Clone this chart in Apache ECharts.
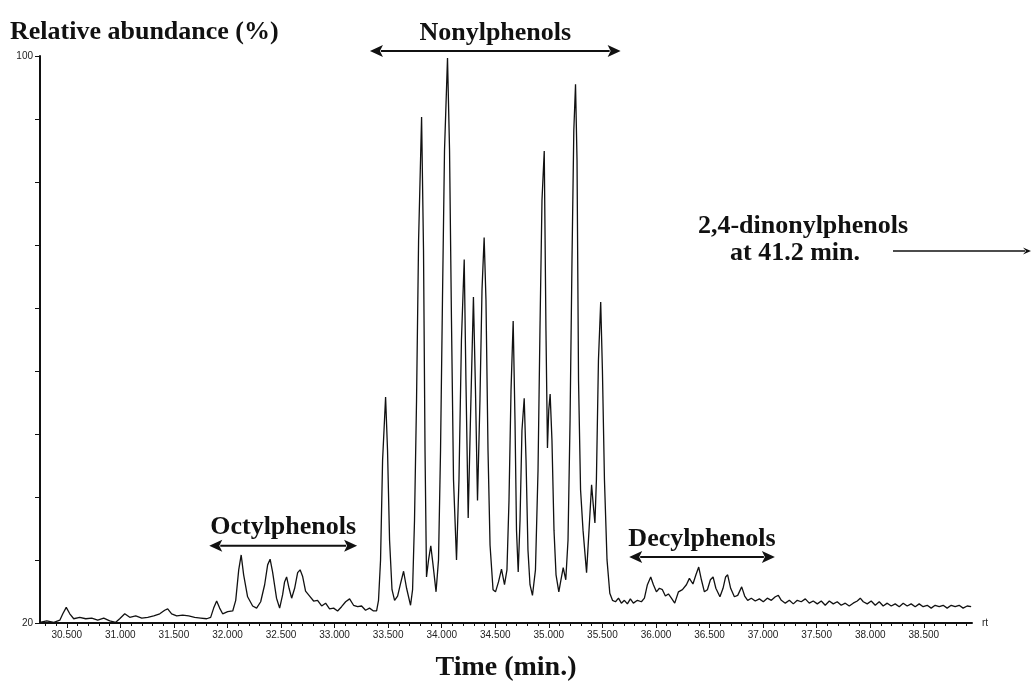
<!DOCTYPE html>
<html>
<head>
<meta charset="utf-8">
<script src="https://cdn.jsdelivr.net/npm/echarts@6/dist/echarts.min.js"></script>
<style>
  html, body { margin: 0; background: #fff; }
  #chart { width: 1032px; height: 684px; }
</style>
</head>
<body>
<div id="chart"></div>
<script>
// retention time (min) and relative abundance (%)
const times = [
  30.248, 30.313, 30.379, 30.435, 30.463, 30.495, 30.528, 30.565, 30.621, 30.677,
  30.733, 30.789, 30.845, 30.901, 30.957, 30.994, 31.041, 31.088, 31.144, 31.200,
  31.256, 31.312, 31.368, 31.414, 31.442, 31.479, 31.526, 31.582, 31.638, 31.694,
  31.750, 31.806, 31.843, 31.871, 31.899, 31.927, 31.955, 32.002, 32.049, 32.077,
  32.105, 32.128, 32.151, 32.188, 32.235, 32.272, 32.310, 32.347, 32.375, 32.398,
  32.421, 32.458, 32.487, 32.515, 32.533, 32.552, 32.575, 32.599, 32.627, 32.655,
  32.678, 32.701, 32.729, 32.767, 32.804, 32.841, 32.879, 32.916, 32.953, 32.991,
  33.028, 33.065, 33.103, 33.140, 33.177, 33.215, 33.252, 33.289, 33.326, 33.363,
  33.392, 33.410, 33.429, 33.448, 33.476, 33.494, 33.513, 33.536, 33.560, 33.588,
  33.616, 33.644, 33.672, 33.709, 33.728, 33.746, 33.765, 33.784, 33.812, 33.830,
  33.844, 33.858, 33.877, 33.898, 33.919, 33.947, 33.970, 33.989, 34.007, 34.026,
  34.054, 34.073, 34.091, 34.110, 34.138, 34.161, 34.184, 34.210, 34.226, 34.247,
  34.268, 34.296, 34.315, 34.334, 34.357, 34.376, 34.396, 34.413, 34.432, 34.451,
  34.479, 34.502, 34.530, 34.558, 34.586, 34.609, 34.628, 34.647, 34.667, 34.684,
  34.698, 34.714, 34.731, 34.749, 34.770, 34.787, 34.805, 34.824, 34.847, 34.875,
  34.899, 34.917, 34.936, 34.957, 34.973, 34.987, 34.999, 35.012, 35.029, 35.048,
  35.067, 35.093, 35.113, 35.134, 35.158, 35.179, 35.198, 35.216, 35.233, 35.249,
  35.263, 35.277, 35.296, 35.319, 35.352, 35.375, 35.399, 35.415, 35.430, 35.444,
  35.463, 35.484, 35.500, 35.519, 35.543, 35.569, 35.594, 35.622, 35.650, 35.677,
  35.705, 35.733, 35.761, 35.789, 35.827, 35.864, 35.892, 35.920, 35.951, 35.976,
  36.004, 36.032, 36.060, 36.088, 36.116, 36.144, 36.175, 36.210, 36.247, 36.284,
  36.312, 36.345, 36.373, 36.399, 36.424, 36.452, 36.480, 36.508, 36.533, 36.559,
  36.597, 36.626, 36.650, 36.669, 36.697, 36.732, 36.763, 36.800, 36.828, 36.856,
  36.890, 36.927, 36.965, 37.002, 37.039, 37.077, 37.114, 37.142, 37.170, 37.207,
  37.245, 37.282, 37.319, 37.356, 37.394, 37.431, 37.468, 37.506, 37.543, 37.580,
  37.618, 37.655, 37.692, 37.729, 37.767, 37.804, 37.841, 37.879, 37.907, 37.935,
  37.972, 38.009, 38.047, 38.084, 38.121, 38.159, 38.196, 38.233, 38.271, 38.308,
  38.345, 38.382, 38.420, 38.457, 38.494, 38.532, 38.569, 38.606, 38.644, 38.681,
  38.718, 38.756, 38.793, 38.830, 38.867, 38.905, 38.942
];
const abundance = [
  20.1, 20.3, 20.1, 20.4, 21.3, 22.2, 21.3, 20.6, 20.8, 20.6,
  20.7, 20.4, 20.7, 20.3, 20.1, 20.6, 21.3, 20.8, 21.0, 20.7,
  20.8, 21.0, 21.3, 21.8, 22.0, 21.3, 21.0, 21.1, 21.0, 20.8,
  20.7, 20.6, 20.8, 22.1, 23.1, 22.1, 21.3, 21.6, 21.7, 23.2,
  27.5, 29.6, 26.8, 23.7, 22.4, 22.1, 23.0, 25.4, 28.2, 29.0,
  27.2, 23.5, 22.1, 24.0, 25.8, 26.5, 24.9, 23.5, 24.9, 27.1,
  27.5, 26.6, 24.5, 23.8, 23.1, 23.2, 22.4, 22.8, 22.0, 22.1,
  21.7, 22.3, 23.0, 23.4, 22.5, 22.3, 22.4, 21.8, 22.1, 21.7,
  21.7, 23.2, 28.9, 43.0, 51.9, 44.4, 31.7, 24.7, 23.2, 23.8,
  25.6, 27.3, 24.9, 22.5, 24.7, 34.5, 51.5, 74.0, 91.4, 72.6,
  44.4, 26.5, 28.9, 30.9, 28.2, 24.4, 28.9, 44.4, 65.6, 86.7,
  99.7, 86.7, 62.7, 40.2, 28.9, 40.2, 59.9, 71.3, 54.3, 34.8,
  48.6, 66.0, 52.9, 37.3, 51.5, 67.0, 74.4, 65.6, 44.4, 31.0,
  24.7, 24.4, 25.8, 27.6, 25.4, 27.5, 37.3, 52.9, 62.6, 48.6,
  33.1, 27.2, 34.5, 47.2, 51.7, 43.0, 30.3, 25.4, 23.9, 27.5,
  41.6, 61.3, 79.7, 86.6, 61.3, 44.7, 50.0, 52.3, 45.8, 33.1,
  26.8, 24.4, 26.1, 27.8, 26.1, 31.7, 48.6, 71.2, 89.5, 96.0,
  85.3, 54.3, 38.8, 33.1, 27.1, 33.1, 39.5, 36.6, 34.1, 40.2,
  57.1, 65.3, 55.7, 40.2, 28.9, 24.2, 23.2, 23.0, 23.5, 22.8,
  23.2, 22.7, 23.4, 22.8, 23.2, 23.0, 23.5, 25.4, 26.5, 25.4,
  24.4, 24.9, 24.7, 23.8, 24.1, 23.5, 22.8, 24.4, 24.7, 25.4,
  26.3, 25.5, 26.8, 27.9, 26.1, 24.4, 24.7, 26.1, 26.5, 24.9,
  23.7, 24.9, 26.5, 26.8, 24.9, 23.7, 23.9, 25.1, 23.8, 23.2,
  23.5, 23.1, 23.4, 23.0, 23.5, 23.2, 23.7, 23.9, 23.2, 22.8,
  23.2, 22.7, 23.2, 23.0, 23.4, 22.8, 23.1, 22.7, 23.1, 22.5,
  23.1, 22.7, 23.0, 22.5, 22.8, 22.4, 22.8, 23.1, 23.5, 23.0,
  22.7, 23.1, 22.5, 23.0, 22.4, 22.8, 22.4, 22.7, 22.3, 22.8,
  22.4, 22.7, 22.3, 22.7, 22.3, 22.5, 22.1, 22.5, 22.3, 22.5,
  22.1, 22.5, 22.3, 22.5, 22.1, 22.4, 22.3
];

// axis ticks / labels
const xLabelValues = [30.5, 31.0, 31.5, 32.0, 32.5, 33.0, 33.5, 34.0, 34.5, 35.0, 35.5, 36.0, 36.5, 37.0, 37.5, 38.0, 38.5];
const yTickValues = [20, 28.89, 37.78, 46.67, 55.56, 64.44, 73.33, 82.22, 91.11, 100];
const yLabelValues = [20, 100];

// compound group brackets (time range in min, arrow level in %)
const groupNames = ["Octylphenols", "Nonylphenols", "Decylphenols"];
const groupStart = [31.83, 33.33, 35.75];
const groupEnd = [33.21, 35.67, 37.11];
const groupLevel = [30.9, 100.7, 29.3];

const xMin = 30.25, xMax = 38.95;
const serif = '"Liberation Serif", "DejaVu Serif", serif';
const sans = '"Liberation Sans", Arial, sans-serif';

// minor ticks every 0.1 min
const xMinorTicks = [];
for (let i = 303; i <= 389; i++) xMinorTicks.push(i / 10);

const chart = echarts.init(document.getElementById("chart"), null, { renderer: "canvas" });

chart.setOption({
  animation: false,
  backgroundColor: "#fff",
  title: {
    text: "Relative abundance (%)",
    left: 5, top: 14,
    textStyle: { fontFamily: serif, fontWeight: "bold", fontSize: 26, color: "#111" }
  },
  grid: { left: 40, right: 60, top: 56, bottom: 61, outerBoundsMode: "none", containLabel: false },
  xAxis: [
    {
      type: "value", min: xMin, max: xMax,
      name: "rt", nameLocation: "end", nameGap: 10,
      nameTextStyle: { fontFamily: sans, fontSize: 10, color: "#222", verticalAlign: "middle" },
      axisLine: { lineStyle: { color: "#111", width: 2 } },
      axisTick: { customValues: xLabelValues, length: 5, lineStyle: { color: "#111", width: 1 } },
      axisLabel: {
        customValues: xLabelValues, margin: 7,
        fontFamily: sans, fontSize: 10, color: "#222",
        formatter: v => v.toFixed(3)
      },
      splitLine: { show: false }
    },
    {
      type: "value", min: xMin, max: xMax, position: "bottom",
      name: "Time (min.)", nameLocation: "middle", nameGap: 31,
      nameTextStyle: { fontFamily: serif, fontWeight: "bold", fontSize: 28, color: "#111" },
      axisLine: { show: false },
      axisTick: { customValues: xMinorTicks, length: 3, lineStyle: { color: "#111", width: 1 } },
      axisLabel: { show: false },
      splitLine: { show: false }
    }
  ],
  yAxis: {
    type: "value", min: 20, max: 100,
    axisLine: { show: true, lineStyle: { color: "#111", width: 2 } },
    axisTick: { show: true, customValues: yTickValues, length: 5, lineStyle: { color: "#111", width: 1 } },
    axisLabel: { customValues: yLabelValues, margin: 7, fontFamily: sans, fontSize: 10, color: "#222" },
    splitLine: { show: false }
  },
  series: [{
    type: "line",
    xAxisIndex: 0,
    data: times.map((t, i) => [t, abundance[i]]),
    showSymbol: false,
    clip: false,
    lineStyle: { color: "#111", width: 1.3 }
  }]
});

// arrow: line plus filled heads
function arrow(x1, x2, y, both, head, half, lw) {
  const els = [{
    type: "line", silent: true,
    shape: { x1: both ? x1 + head - 2 : x1, y1: y, x2: x2 - head + 2, y2: y },
    style: { stroke: "#111", lineWidth: lw }
  }];
  els.push({ type: "polygon", silent: true,
    shape: { points: [[x2, y], [x2 - head, y - half], [x2 - head + 3, y], [x2 - head, y + half]] },
    style: { fill: "#111" } });
  if (both) els.push({ type: "polygon", silent: true,
    shape: { points: [[x1, y], [x1 + head, y - half], [x1 + head - 3, y], [x1 + head, y + half]] },
    style: { fill: "#111" } });
  return els;
}

const graphics = [];
groupNames.forEach((name, i) => {
  const p1 = chart.convertToPixel({ xAxisIndex: 0, yAxisIndex: 0 }, [groupStart[i], groupLevel[i]]);
  const p2 = chart.convertToPixel({ xAxisIndex: 0, yAxisIndex: 0 }, [groupEnd[i], groupLevel[i]]);
  graphics.push(...arrow(p1[0], p2[0], p1[1], true, 13, 6, 2));
  graphics.push({
    type: "text", silent: true,
    x: (p1[0] + p2[0]) / 2, y: p1[1] - 18,
    style: { text: name, font: 'bold 26px ' + serif, fill: "#111", align: "center", verticalAlign: "middle" }
  });
});

// dinonylphenols note, off the right edge of the axis
graphics.push({
  type: "text", silent: true, x: 803, y: 226,
  style: { text: "2,4-dinonylphenols", font: 'bold 26px ' + serif, fill: "#111", align: "center", verticalAlign: "middle" }
});
graphics.push({
  type: "text", silent: true, x: 795, y: 253,
  style: { text: "at 41.2 min.", font: 'bold 26px ' + serif, fill: "#111", align: "center", verticalAlign: "middle" }
});
graphics.push(...arrow(893, 1031, 251, false, 8, 3.5, 1.6));

chart.setOption({ graphic: graphics });
</script>
</body>
</html>
